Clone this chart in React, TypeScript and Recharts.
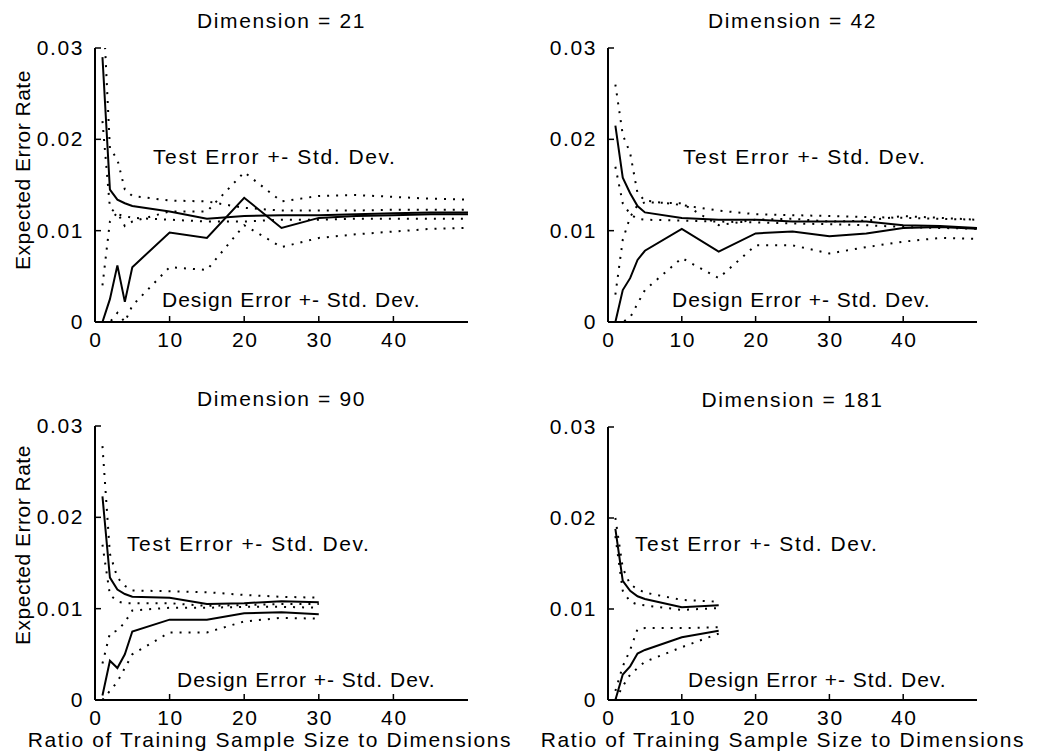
import React from "react";
import { LineChart, Line, XAxis, YAxis } from "recharts";

const FONT = '"Liberation Sans", Arial, Helvetica, sans-serif';
const INK = "#000";
const FS = 21;
const LS = 1.6;

const xTicks = [0, 10, 20, 30, 40];
const yTicks = [0, 0.01, 0.02, 0.03];
const xTitle = "Ratio of Training Sample Size to Dimensions";
const yTitle = "Expected Error Rate";
const testText = "Test Error +- Std. Dev.";
const designText = "Design Error +- Std. Dev.";

// Dimension = 21
const ratio21 = [1, 2, 3, 4, 5, 10, 15, 20, 25, 30, 35, 40, 45, 50];
const test21 = [0.029, 0.0145, 0.0134, 0.013, 0.0127, 0.0121, 0.0113, 0.0116, 0.0117, 0.0117, 0.0118, 0.0119, 0.012, 0.012];
const test21Hi = [0.036, 0.019, 0.0178, 0.0145, 0.0138, 0.0133, 0.0132, 0.0125, 0.0122, 0.0122, 0.0122, 0.0123, 0.0123, 0.0123];
const test21Lo = [0.022, 0.0125, 0.0118, 0.0116, 0.0114, 0.0112, 0.011, 0.011, 0.0112, 0.0112, 0.0113, 0.0113, 0.0113, 0.0113];
const design21 = [0.0, 0.0025, 0.0062, 0.0022, 0.006, 0.0098, 0.0092, 0.0136, 0.0103, 0.0114, 0.0116, 0.0117, 0.0118, 0.0118];
const design21Hi = [0.004, 0.011, 0.012, 0.0105, 0.011, 0.0121, 0.0121, 0.0164, 0.0132, 0.0138, 0.0139, 0.0137, 0.0135, 0.0134];
const design21Lo = [0.0, 0.0, 0.001, 0.0, 0.0018, 0.006, 0.0057, 0.0106, 0.0082, 0.0092, 0.0096, 0.0099, 0.0102, 0.0103];

// Dimension = 42
const ratio42 = [1, 2, 3, 4, 5, 10, 15, 20, 25, 30, 35, 40, 45, 50];
const test42 = [0.0215, 0.0158, 0.0141, 0.0127, 0.012, 0.0114, 0.0112, 0.0112, 0.011, 0.011, 0.011, 0.0106, 0.0105, 0.0103];
const test42Hi = [0.026, 0.0205, 0.0185, 0.0141, 0.0133, 0.0128, 0.0122, 0.0118, 0.0117, 0.0116, 0.0115, 0.0114, 0.0113, 0.0112];
const test42Lo = [0.017, 0.013, 0.0118, 0.0113, 0.0112, 0.0111, 0.011, 0.0109, 0.0108, 0.0107, 0.0106, 0.0104, 0.0103, 0.0102];
const design42 = [0.0, 0.0035, 0.0048, 0.0068, 0.0078, 0.0102, 0.0077, 0.0097, 0.0099, 0.0094, 0.0097, 0.0103, 0.0104, 0.0102];
const design42Hi = [0.003, 0.009, 0.0115, 0.0128, 0.0131, 0.013, 0.0106, 0.0112, 0.0113, 0.011, 0.0111, 0.0116, 0.0114, 0.0112];
const design42Lo = [0.0, 0.0, 0.0005, 0.002, 0.0035, 0.007, 0.0048, 0.0084, 0.0084, 0.0075, 0.0082, 0.0088, 0.0092, 0.0091];

// Dimension = 90
const ratio90 = [1, 2, 3, 4, 5, 10, 15, 20, 25, 30];
const test90 = [0.0223, 0.0134, 0.0121, 0.0116, 0.0113, 0.0112, 0.0105, 0.0106, 0.0108, 0.0107];
const test90Hi = [0.0278, 0.016, 0.0134, 0.0125, 0.012, 0.0119, 0.0118, 0.0115, 0.0113, 0.0112];
const test90Lo = [0.017, 0.0115, 0.0108, 0.0106, 0.0106, 0.0106, 0.0103, 0.0104, 0.0105, 0.0105];
const design90 = [0.0005, 0.0043, 0.0035, 0.005, 0.0075, 0.0088, 0.0088, 0.0095, 0.0096, 0.0094];
const design90Hi = [0.004, 0.0073, 0.0076, 0.0085, 0.0098, 0.0101, 0.0101, 0.0102, 0.0102, 0.0101];
const design90Lo = [0.0, 0.001, 0.002, 0.0035, 0.005, 0.0074, 0.0074, 0.0086, 0.009, 0.0089];

// Dimension = 181
const ratio181 = [1, 2, 3, 4, 5, 10, 15];
const test181 = [0.0188, 0.0131, 0.012, 0.0114, 0.0111, 0.0102, 0.0104];
const test181Hi = [0.02, 0.0145, 0.0127, 0.0122, 0.0118, 0.011, 0.0108];
const test181Lo = [0.018, 0.012, 0.0108, 0.0105, 0.0104, 0.0099, 0.0101];
const design181 = [0.0, 0.0028, 0.0037, 0.0051, 0.0055, 0.0069, 0.0076];
const design181Hi = [0.001, 0.0037, 0.0055, 0.0078, 0.0079, 0.0079, 0.008];
const design181Lo = [0.0, 0.0015, 0.0028, 0.0035, 0.0042, 0.0058, 0.0073];

const TICK = 6;
const GAP = 8;
const ML = 70; // space left of the plot box inside each chart
const MT = 40;
const MR = 12;
const MB = 48;

const fmtY = (v: number) => (v === 0 ? "0" : v.toFixed(2));

function BottomTick(props: any) {
  const { x, y, payload } = props;
  const base = y - GAP;
  return (
    <g>
      <line x1={x} y1={base} x2={x} y2={base - TICK} stroke={INK} strokeWidth={1.5} />
      <text x={x + 1} y={base + 25} textAnchor="middle" fontSize={FS} letterSpacing={LS} fill={INK} fontFamily={FONT}>
        {payload.value}
      </text>
    </g>
  );
}

function LeftTick(props: any) {
  const { x, y, payload } = props;
  const base = x + GAP;
  return (
    <g>
      <line x1={base} y1={y} x2={base + TICK} y2={y} stroke={INK} strokeWidth={1.5} />
      <text x={base - 11} y={y + 7} textAnchor="end" fontSize={FS} letterSpacing={LS} fill={INK} fontFamily={FONT}>
        {fmtY(payload.value)}
      </text>
    </g>
  );
}

function TopTick(props: any) {
  const { x, y } = props;
  return <line x1={x} y1={y} x2={x} y2={y + TICK} stroke={INK} strokeWidth={1.5} />;
}

function RightTick(props: any) {
  const { x, y } = props;
  return <line x1={x} y1={y} x2={x - TICK} y2={y} stroke={INK} strokeWidth={1.5} />;
}

type Box = { x: number; y: number; w: number; h: number };

function buildRows(r: number[], tm: number[], th: number[], tl: number[], dm: number[], dh: number[], dl: number[]) {
  return r.map((v, i) => ({ r: v, tm: tm[i], th: th[i], tl: tl[i], dm: dm[i], dh: dh[i], dl: dl[i] }));
}

const textStyle: React.CSSProperties = {
  position: "absolute",
  fontFamily: FONT,
  fontSize: FS,
  letterSpacing: LS,
  lineHeight: "21px",
  whiteSpace: "nowrap",
  color: INK,
};
const designStyle: React.CSSProperties = { ...textStyle, letterSpacing: 1.0 };
const yTitleStyle: React.CSSProperties = { ...textStyle, letterSpacing: 0.5 };

function Panel({ title, box, rows }: { title: string; box: Box; rows: any[] }) {
  const axisLine = { stroke: INK, strokeWidth: 2 };
  const dotted = { stroke: INK, strokeWidth: 2, strokeDasharray: "2 7", dot: false, type: "linear" as const, isAnimationActive: false };
  const solid = { stroke: INK, strokeWidth: 2, dot: false, type: "linear" as const, isAnimationActive: false };
  return (
    <>
      <div style={{ ...textStyle, left: box.x + box.w / 2, top: box.y - 38, transform: "translateX(-50%)" }}>{title}</div>
      <div style={{ position: "absolute", left: box.x - ML, top: box.y - MT }}>
        <LineChart
          width={ML + box.w + MR}
          height={MT + box.h + MB}
          data={rows}
          margin={{ top: MT, right: MR, bottom: 8, left: 10 }}
        >
          <XAxis
            dataKey="r"
            type="number"
            domain={[0, 50]}
            ticks={xTicks}
            interval={0}
            allowDataOverflow
            height={40}
            tickSize={0}
            tickMargin={GAP}
            axisLine={axisLine}
            tick={BottomTick}
          />
          <XAxis
            xAxisId="top"
            orientation="top"
            dataKey="r"
            type="number"
            domain={[0, 50]}
            ticks={xTicks}
            interval={0}
            height={0}
            tickSize={0}
            tickMargin={0}
            axisLine={axisLine}
            tick={TopTick}
          />
          <YAxis
            type="number"
            domain={[0, 0.03]}
            ticks={yTicks}
            interval={0}
            allowDataOverflow
            width={60}
            tickSize={0}
            tickMargin={GAP}
            axisLine={axisLine}
            tick={LeftTick}
          />
          <YAxis
            yAxisId="right"
            orientation="right"
            type="number"
            domain={[0, 0.03]}
            ticks={yTicks}
            interval={0}
            width={0}
            tickSize={0}
            tickMargin={0}
            axisLine={axisLine}
            tick={RightTick}
          />
          <Line dataKey="th" {...dotted} />
          <Line dataKey="tl" {...dotted} />
          <Line dataKey="dh" {...dotted} />
          <Line dataKey="dl" {...dotted} />
          <Line dataKey="tm" {...solid} />
          <Line dataKey="dm" {...solid} />
        </LineChart>
      </div>
    </>
  );
}

export default function App() {
  const boxTL = { x: 95, y: 48, w: 373, h: 274 };
  const boxTR = { x: 608, y: 48, w: 369, h: 274 };
  const boxBL = { x: 95, y: 426, w: 373, h: 274 };
  const boxBR = { x: 608, y: 427, w: 369, h: 273 };
  return (
    <div style={{ position: "absolute", left: 0, top: 0, width: 1046, height: 756, background: "#fff", overflow: "hidden" }}>
      <Panel title="Dimension = 21" box={boxTL} rows={buildRows(ratio21, test21, test21Hi, test21Lo, design21, design21Hi, design21Lo)} />
      <Panel title="Dimension = 42" box={boxTR} rows={buildRows(ratio42, test42, test42Hi, test42Lo, design42, design42Hi, design42Lo)} />
      <Panel title="Dimension = 90" box={boxBL} rows={buildRows(ratio90, test90, test90Hi, test90Lo, design90, design90Hi, design90Lo)} />
      <Panel title="Dimension = 181" box={boxBR} rows={buildRows(ratio181, test181, test181Hi, test181Lo, design181, design181Hi, design181Lo)} />

      <div style={{ ...textStyle, left: 153, top: 146 }}>{testText}</div>
      <div style={{ ...designStyle, left: 162, top: 289 }}>{designText}</div>
      <div style={{ ...textStyle, left: 683, top: 146 }}>{testText}</div>
      <div style={{ ...designStyle, left: 672, top: 289 }}>{designText}</div>
      <div style={{ ...textStyle, left: 127, top: 533 }}>{testText}</div>
      <div style={{ ...designStyle, left: 177, top: 669 }}>{designText}</div>
      <div style={{ ...textStyle, left: 635, top: 533 }}>{testText}</div>
      <div style={{ ...designStyle, left: 688, top: 669 }}>{designText}</div>

      <div style={{ ...yTitleStyle, left: 22, top: 170, transform: "translate(-50%, -50%) rotate(-90deg)" }}>{yTitle}</div>
      <div style={{ ...yTitleStyle, left: 22, top: 545, transform: "translate(-50%, -50%) rotate(-90deg)" }}>{yTitle}</div>
      <div style={{ ...textStyle, left: 270, top: 729, transform: "translateX(-50%)" }}>{xTitle}</div>
      <div style={{ ...textStyle, left: 783, top: 729, transform: "translateX(-50%)" }}>{xTitle}</div>
    </div>
  );
}
